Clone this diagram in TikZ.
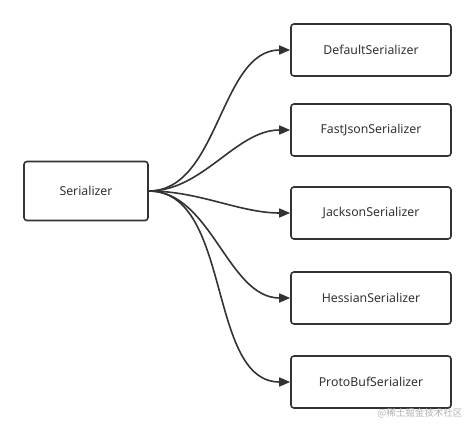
\documentclass[tikz,border=0pt]{standalone}
\usepackage{fontspec}
\setmainfont{Noto Sans}
\newfontfamily\cjk{Noto Sans CJK SC}
\usetikzlibrary{arrows.meta}
\definecolor{ink}{HTML}{333333}
\begin{document}
\begin{tikzpicture}[x=1pt,y=1pt,
  box/.style={draw=ink,line width=1.6pt,rounded corners=3pt,fill=white,minimum height=52pt,inner sep=0pt,font=\fontsize{12.3}{14}\selectfont,text=ink},
  conn/.style={draw=ink,line width=1.6pt,-{Triangle[length=11pt,width=9pt]},out=0,in=180,looseness=0.9}]
\useasboundingbox (0,0) rectangle (476,433);
\node[box,minimum width=124pt,minimum height=59pt] (s) at (86,242) {Serializer};
\node[box,minimum width=160pt] (d) at (371,383) {DefaultSerializer};
\node[box,minimum width=160pt] (f) at (371,303) {FastJsonSerializer};
\node[box,minimum width=160pt] (j) at (371,220) {JacksonSerializer};
\node[box,minimum width=160pt] (h) at (371,135) {HessianSerializer};
\node[box,minimum width=160pt] (p) at (371,51) {ProtoBufSerializer};
\foreach \t in {d,f,j,h,p} \draw[conn] (s.east) to (\t.west);
\node[font=\cjk\fontsize{9.5}{11}\selectfont,text=black!30,anchor=east] (w) at (466,20) {@稀土掘金技术社区};
\end{tikzpicture}
\end{document}
